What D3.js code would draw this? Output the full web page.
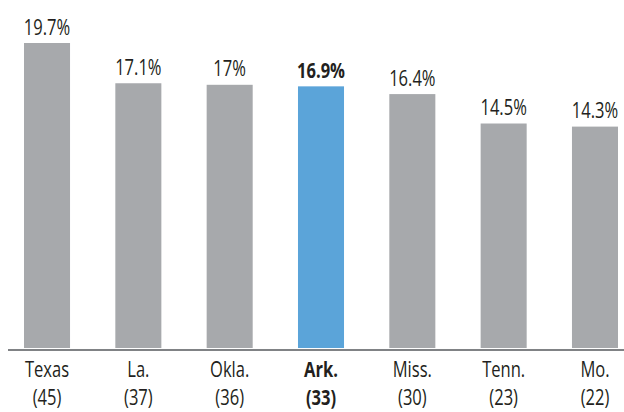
<!DOCTYPE html>
<html>
<head>
<meta charset="utf-8">
<script src="https://cdn.jsdelivr.net/npm/d3@7"></script>
<style>
  body { margin: 0; background: #fff; }
  text { font-family: "Open Sans", "Liberation Sans", sans-serif; fill: #231f20; }
</style>
</head>
<body>
<div id="chart"></div>
<script>
// states with their rank in parentheses
var states = ["Texas", "La.", "Okla.", "Ark.", "Miss.", "Tenn.", "Mo."];
var ranks = ["(45)", "(37)", "(36)", "(33)", "(30)", "(23)", "(22)"];
var rates = [19.7, 17.1, 17, 16.9, 16.4, 14.5, 14.3];
var rateLabels = ["19.7%", "17.1%", "17%", "16.9%", "16.4%", "14.5%", "14.3%"];
var highlight = "Ark.";

var width = 624, height = 412;
var squeeze = 0.77; // fake a condensed face

var svg = d3.select("#chart").append("svg")
	.attr("width", width)
	.attr("height", height);

var x = d3.scaleBand()
	.domain(states)
	.range([24, 618])
	.paddingInner(0.496)
	.paddingOuter(0);

var y = d3.scaleLinear()
	.domain([0, 19.7])
	.range([348, 43]);

var data = states.map(function(s, i) {
	return { state: s, rank: ranks[i], rate: rates[i], label: rateLabels[i] };
});

function cx(d) { return x(d.state) + x.bandwidth() / 2; }
function weight(d) { return d.state == highlight ? "bold" : "normal"; }

// bars
svg.selectAll(".bar")
	.data(data)
	.enter()
	.append("rect")
		.attr("class", "bar")
		.attr("x", function(d) { return x(d.state); })
		.attr("y", function(d) { return y(d.rate); })
		.attr("width", x.bandwidth())
		.attr("height", function(d) { return y(0) - y(d.rate); })
		.style("fill", function(d) { return d.state == highlight ? "#5ba4d9" : "#a7a9ac"; });

// value labels
svg.selectAll(".val")
	.data(data)
	.enter()
	.append("text")
		.attr("class", "val")
		.attr("transform", function(d) {
			return "translate(" + cx(d) + "," + (y(d.rate) - 8.5) + ") scale(" + squeeze + ",1)";
		})
		.attr("text-anchor", "middle")
		.style("font-size", "21.5px")
		.style("font-weight", weight)
		.text(function(d) { return d.label; });

// baseline
svg.append("line")
	.attr("x1", 8)
	.attr("x2", width)
	.attr("y1", y(0) + 2)
	.attr("y2", y(0) + 2)
	.style("stroke", "#808285")
	.style("stroke-width", 2);

// category labels, two lines
var cat = svg.selectAll(".cat")
	.data(data)
	.enter()
	.append("text")
		.attr("class", "cat")
		.attr("transform", function(d) { return "translate(" + cx(d) + ",377) scale(" + squeeze + ",1)"; })
		.attr("text-anchor", "middle")
		.style("font-size", "21.5px")
		.style("font-weight", weight);

cat.append("tspan")
	.attr("x", 0)
	.attr("y", 0)
	.text(function(d) { return d.state; });

cat.append("tspan")
	.attr("x", 0)
	.attr("y", 28)
	.text(function(d) { return d.rank; });
</script>
</body>
</html>
